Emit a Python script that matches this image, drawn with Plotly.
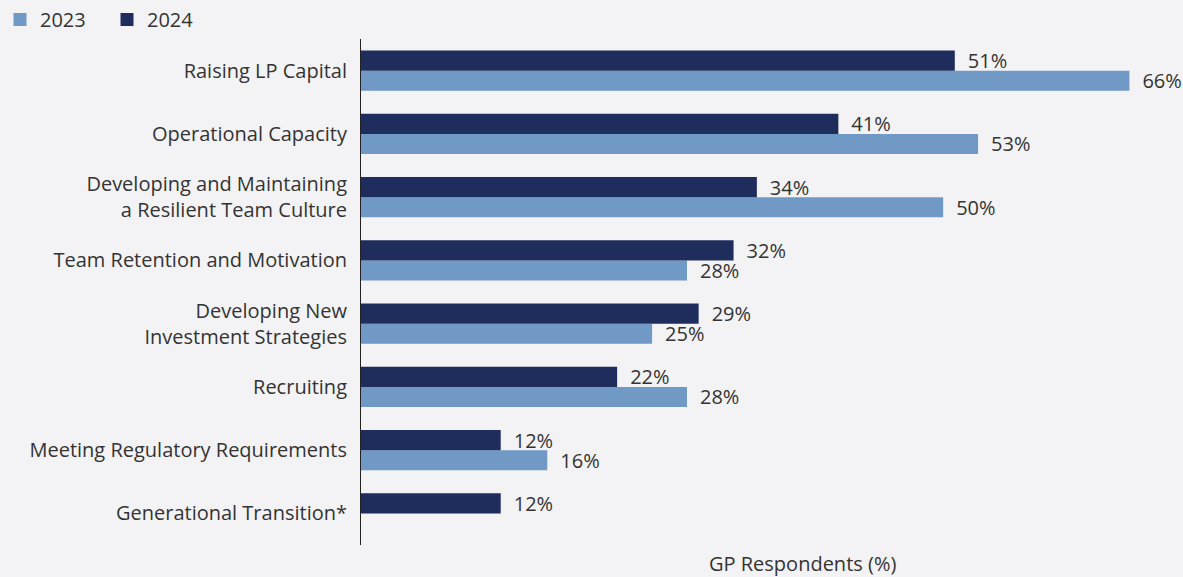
import plotly.graph_objects as go

# Challenges reported by GP respondents, top to bottom
categories = [
    "Raising LP Capital",
    "Operational Capacity",
    "Developing and Maintaining<br>a Resilient Team Culture",
    "Team Retention and Motivation",
    "Developing New<br>Investment Strategies",
    "Recruiting",
    "Meeting Regulatory Requirements",
    "Generational Transition*",
]
values_2023 = [66, 53, 50, 28, 25, 28, 16, None]
values_2024 = [51, 41, 34, 32, 29, 22, 12, 12]
series_names = ["2023", "2024"]

COLOR_2023 = "#7199c6"
COLOR_2024 = "#1f2d5c"
TEXT_COLOR = "#333333"
BG = "#f3f3f6"
FONT = "Open Sans"
FS = 20


def labels(vals):
    # en-space keeps the value label clear of the bar end
    return ["" if v is None else f"\u2002{v}%" for v in vals]


fig = go.Figure()
for name, vals, color in [(series_names[0], values_2023, COLOR_2023),
                          (series_names[1], values_2024, COLOR_2024)]:
    fig.add_trace(go.Bar(
        name=name, y=categories, x=vals, orientation="h",
        marker=dict(color=color, line=dict(width=0)),
        text=labels(vals), textposition="outside",
        textfont=dict(size=FS, color=TEXT_COLOR, family=FONT),
        cliponaxis=False, showlegend=False,
    ))
    # square legend swatch
    fig.add_trace(go.Scatter(
        name=name, x=[None], y=[None], mode="markers",
        marker=dict(symbol="square", size=13, color=color),
        showlegend=True,
    ))

fig.update_layout(
    width=1183, height=577,
    paper_bgcolor=BG, plot_bgcolor=BG,
    font=dict(family=FONT, size=FS, color=TEXT_COLOR),
    barmode="group", bargap=0.365, bargroupgap=0,
    margin=dict(l=361, r=7, t=39, b=32, autoexpand=False),
    showlegend=True,
    legend=dict(
        orientation="h", xref="container", yref="container",
        x=-0.004, y=1.0, xanchor="left", yanchor="top",
        font=dict(size=FS, color=TEXT_COLOR, family=FONT),
        itemwidth=30, bgcolor="rgba(0,0,0,0)", traceorder="normal",
        entrywidth=62, entrywidthmode="pixels",
    ),
    uniformtext=dict(minsize=FS, mode="show"),
)
fig.update_xaxes(
    range=[0, 70], showgrid=False, zeroline=False, showline=False,
    showticklabels=False, ticks="",
)
fig.update_yaxes(
    categoryorder="array", categoryarray=categories[::-1],
    showgrid=False, zeroline=False, showline=True,
    linecolor="#222222", linewidth=1, ticks="",
    ticklabelstandoff=9,
    tickfont=dict(size=FS, color=TEXT_COLOR, family=FONT),
)
fig.add_annotation(
    text="GP Respondents (%)", xref="paper", yref="paper",
    x=0.542, y=-0.036, xanchor="center", yanchor="middle",
    showarrow=False, font=dict(size=FS, color=TEXT_COLOR, family=FONT),
)

fig.write_html("out.html")
